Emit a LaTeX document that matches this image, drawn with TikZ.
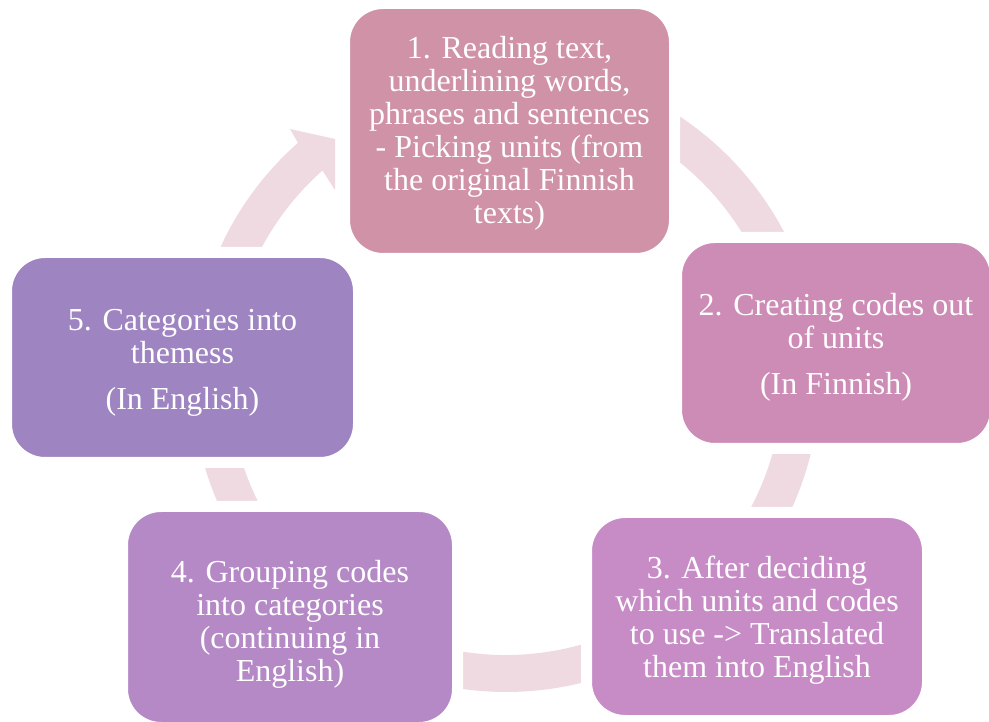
\documentclass[tikz,border=0pt]{standalone}
\usepackage{fontspec}
\setmainfont{Liberation Serif}
\usetikzlibrary{calc}
\definecolor{ringcol}{HTML}{EEDAE0}
\definecolor{stepA}{HTML}{D092A7}
\definecolor{stepB}{HTML}{CC8CB5}
\definecolor{stepC}{HTML}{C78BC6}
\definecolor{stepD}{HTML}{B489C6}
\definecolor{stepE}{HTML}{9E84C1}
\tikzset{
  stagebox/.style={draw=white, line width=11pt, rounded corners=38.5pt,
    inner sep=0pt},
  stagetext/.style={text=white, inner sep=0pt, align=center,
    font=\fontsize{32}{33}\selectfont},
}
\begin{document}
\begin{tikzpicture}[x=1pt,y=1pt]
\useasboundingbox (0,0) rectangle (989,721);
\coordinate (c) at (506,343);
% circular arrow running clockwise behind the stages
\fill[ringcol]
  ($(c)+(131.5:314)$) arc[start angle=131.5, end angle=460, radius=314]
  -- ($(c)+(460:277)$) arc[start angle=460, end angle=131.5, radius=277]
  -- (335,531) -- (335,582) -- (290,592) -- cycle;
% stage boxes
\node[stagebox, fill=stepA, minimum width=330pt, minimum height=255pt] (s1) at (509.5,590) {};
\node[stagebox, fill=stepB, minimum width=319pt, minimum height=211pt] (s2) at (836,378) {};
\node[stagebox, fill=stepC, minimum width=341pt, minimum height=208pt] (s3) at (757,104.5) {};
\node[stagebox, fill=stepD, minimum width=335pt, minimum height=221pt] (s4) at (290,104) {};
\node[stagebox, fill=stepE, minimum width=352pt, minimum height=210pt] (s5) at (182.5,363.5) {};
% stage texts
\node[stagetext] (t1) at ([yshift=-2pt]s1.center)
  {1. Reading text,\\underlining words,\\phrases and sentences\\- Picking units (from\\the original Finnish\\texts)};
\node[stagetext] (t2) at ([yshift=-4pt]s2.center)
  {2. Creating codes out\\of units\\[13pt](In Finnish)};
\node[stagetext] (t3) at ([yshift=-4pt]s3.center)
  {3. After deciding\\which units and codes\\to use -> Translated\\them into English};
\node[stagetext] (t4) at ([yshift=-7pt]s4.center)
  {4. Grouping codes\\into categories\\(continuing in\\English)};
\node[stagetext] (t5) at ([yshift=-5pt]s5.center)
  {5. Categories into\\themess\\[13pt](In English)};
\end{tikzpicture}
\end{document}
